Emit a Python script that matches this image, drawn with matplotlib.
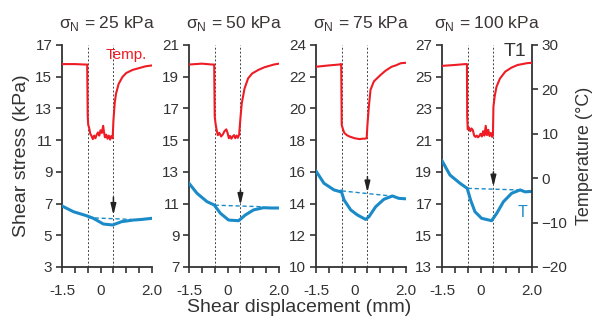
import numpy as np
import matplotlib.pyplot as plt

plt.rcParams['font.family'] = ['Liberation Sans', 'DejaVu Sans']
plt.rcParams['mathtext.fontset'] = 'custom'
plt.rcParams['mathtext.rm'] = 'Liberation Sans'

# normal stress for each test (kPa)
sigma_n = [25, 50, 75, 100]
# left axis limits (kPa)
stress_lims = [(3, 17), (7, 21), (10, 24), (13, 27)]

# temperature T1 (deg C) vs shear displacement (mm)
temp_x = [
    [-1.5, -1.0, -0.6, -0.52, -0.5, -0.48, -0.45, -0.4, -0.35, -0.3, -0.25, -0.2, -0.15, -0.1,
     -0.05, 0.0, 0.05, 0.1, 0.13, 0.17, 0.22, 0.27, 0.32, 0.37, 0.42, 0.47, 0.5, 0.55, 0.6,
     0.7, 0.85, 1.0, 1.25, 1.5, 1.75, 2.0],
    [-1.5, -1.0, -0.6, -0.52, -0.5, -0.47, -0.43, -0.38, -0.32, -0.25, -0.18, -0.12, -0.05,
     0.0, 0.05, 0.1, 0.15, 0.2, 0.25, 0.3, 0.35, 0.4, 0.45, 0.5, 0.55, 0.66, 0.8, 0.96, 1.2,
     1.44, 1.8, 2.0],
    [-1.5, -1.0, -0.6, -0.54, -0.52, -0.5, -0.45, -0.4, -0.3, -0.2, -0.1, 0.0, 0.1, 0.2, 0.3,
     0.4, 0.47, 0.5, 0.55, 0.62, 0.75, 1.0, 1.2, 1.44, 1.6, 1.8, 2.0],
    [-1.5, -1.0, -0.6, -0.53, -0.52, -0.5, -0.45, -0.4, -0.35, -0.3, -0.25, -0.2, -0.15, -0.1,
     -0.05, 0.0, 0.05, 0.1, 0.15, 0.2, 0.25, 0.3, 0.35, 0.4, 0.45, 0.48, 0.5, 0.55, 0.62, 0.75,
     0.96, 1.2, 1.44, 1.8, 2.0],
]
temp_y = [
    [25.7, 25.7, 25.6, 25.6, 14.0, 12.0, 11.5, 10.0, 9.5, 8.8, 9.6, 9.0, 9.8, 10.3,
     9.6, 10.8, 10.2, 11.8, 10.5, 9.2, 9.8, 8.9, 9.6, 8.7, 9.5, 9.0, 13.0, 16.9, 19.0,
     21.2, 22.8, 23.7, 24.4, 24.8, 25.2, 25.4],
    [25.6, 25.8, 25.6, 25.6, 14.0, 12.4, 11.0, 9.7, 10.2, 9.4, 9.9, 10.6, 11.0,
     10.2, 9.0, 9.5, 8.9, 9.4, 9.7, 9.0, 9.6, 9.1, 9.8, 13.5, 16.8, 20.2, 22.5, 23.6, 24.4,
     25.0, 25.6, 25.8],
    [25.1, 25.4, 25.6, 25.7, 25.7, 12.0, 11.0, 10.2, 9.7, 9.4, 9.2, 9.0, 8.9, 8.8, 8.9,
     8.9, 9.0, 12.0, 15.8, 19.9, 21.8, 23.2, 24.2, 25.1, 25.4, 25.9, 26.0],
    [25.3, 25.5, 25.7, 25.7, 14.0, 11.0, 11.4, 10.6, 11.2, 10.8, 9.6, 9.3, 9.6, 9.2,
     9.5, 10.0, 9.4, 10.6, 9.6, 11.8, 9.7, 10.9, 9.5, 10.2, 9.3, 9.6, 16.1, 18.5, 20.6, 22.4,
     24.0, 24.9, 25.5, 25.9, 26.0],
]

# shear stress (kPa) vs shear displacement (mm)
shear_x = [
    [-1.5, -1.06, -0.52, -0.28, 0.11, 0.47, 0.82, 1.27, 1.6, 2.0],
    [-1.5, -1.19, -0.8, -0.52, -0.28, 0.04, 0.43, 0.69, 1.01, 1.4, 1.7, 2.0],
    [-1.5, -1.19, -0.8, -0.56, -0.52, -0.41, -0.15, 0.11, 0.43, 0.56, 0.82, 1.14, 1.47, 1.72,
     2.0],
    [-1.5, -1.19, -0.8, -0.52, -0.39, -0.22, 0.04, 0.43, 0.63, 0.89, 1.21, 1.54, 1.73, 2.0],
]
shear_y = [
    [6.85, 6.49, 6.22, 6.07, 5.71, 5.65, 5.86, 5.96, 6.0, 6.07],
    [12.28, 11.65, 11.12, 10.91, 10.39, 9.96, 9.92, 10.28, 10.6, 10.74, 10.72, 10.72],
    [16.05, 15.28, 14.86, 14.75, 14.8, 14.23, 13.6, 13.28, 13.0, 13.17, 13.8, 14.27, 14.48,
     14.33, 14.3],
    [19.7, 18.8, 18.28, 17.96, 17.23, 16.49, 16.07, 15.92, 16.39, 17.12, 17.65, 17.86, 17.74,
     17.77],
]

# dashed reference line (start, end) in kPa
ref_x = [(-0.5, 1.2), (-0.5, 1.34), (-0.5, 1.4), (-0.5, 1.47)]
ref_y = [(6.11, 6.0), (10.9, 10.8), (14.8, 14.48), (17.96, 17.86)]
# arrow (top, tip) at x = 0.5
arrow_y = [(7.4, 6.28), (11.85, 10.91), (15.7, 14.7), (19.0, 18.07)]

red = '#ee1c24'
blue = '#1a8bc8'
dark = '#333333'

fig = plt.figure(figsize=(5.92, 3.21), dpi=100)
lefts = [62, 189, 316, 442]
for i in range(4):
    ax = fig.add_axes([lefts[i] / 592, 1 - 267 / 321, 90 / 592, 222 / 321])
    ax.set_xlim(-1.5, 2.0)
    ax.set_ylim(*stress_lims[i])
    for xv in (-0.5, 0.5):
        ax.axvline(xv, color='#444444', lw=0.7, ls=(0, (2, 2)), zorder=1)
    ax.plot(shear_x[i], shear_y[i], color=blue, lw=2.2, zorder=3)
    ax.plot(ref_x[i], ref_y[i], color=blue, lw=1, ls=(0, (3, 2)), zorder=2)
    ax.annotate('', xy=(0.5, arrow_y[i][1]), xytext=(0.5, arrow_y[i][0]),
                arrowprops=dict(arrowstyle='-|>,head_width=0.15,head_length=0.6',
                                color='#222222', lw=1.1,
                                mutation_scale=11, shrinkA=0, shrinkB=0), zorder=4)
    ax.set_xticks(np.arange(-1.5, 2.01, 0.5))
    ax.set_xticklabels(['-1.5', '', '', '0', '', '', '', '2.0'])
    lo, hi = stress_lims[i]
    ax.set_yticks(np.arange(lo, hi + 1, 2))
    ax.spines['top'].set_visible(False)
    ax.spines['right'].set_visible(False)
    for s in ('left', 'bottom'):
        ax.spines[s].set_linewidth(1.3)
        ax.spines[s].set_color(dark)
    ax.tick_params(direction='out', length=4, width=1.2, color=dark,
                   labelsize=11, labelcolor=dark, pad=3)
    ax.tick_params(axis='x', pad=8)
    ax.set_title('σ$_\\mathrm{N}$ = %d kPa' % sigma_n[i], fontsize=12.5, color='#3a3434', pad=12)

    tx = ax.twinx()
    tx.set_ylim(-20, 30)
    tx.plot(temp_x[i], temp_y[i], color=red, lw=1.5, zorder=3)
    tx.spines['top'].set_visible(False)
    tx.spines['left'].set_visible(False)
    tx.spines['bottom'].set_visible(False)
    if i < 3:
        tx.spines['right'].set_visible(False)
        tx.set_yticks([])
    else:
        tx.set_yticks(np.arange(-20, 31, 10))
        tx.spines['right'].set_linewidth(1.3)
        tx.spines['right'].set_color(dark)
        tx.tick_params(direction='out', length=4, width=1.2, color=dark,
                       labelsize=11, labelcolor=dark, pad=3)
        tx.set_ylabel('Temperature (°C)', fontsize=13, color=dark, labelpad=6)
        tx.text(0.69, 0.97, 'T1', transform=tx.transAxes, fontsize=14, color=dark,
                ha='left', va='center')
        tx.text(0.84, 0.245, 'T', transform=tx.transAxes, fontsize=11.5, color=blue,
                ha='left', va='center')
    if i == 0:
        ax.set_ylabel('Shear stress (kPa)', fontsize=14, color=dark, labelpad=4)
        tx.text(0.48, 0.955, 'Temp.', transform=tx.transAxes, fontsize=11, color=red,
                ha='left', va='center')

fig.text(299 / 592, 1 - 307 / 321, 'Shear displacement (mm)', fontsize=14, color=dark,
         ha='center', va='center')

plt.savefig('out.png', dpi=100)
